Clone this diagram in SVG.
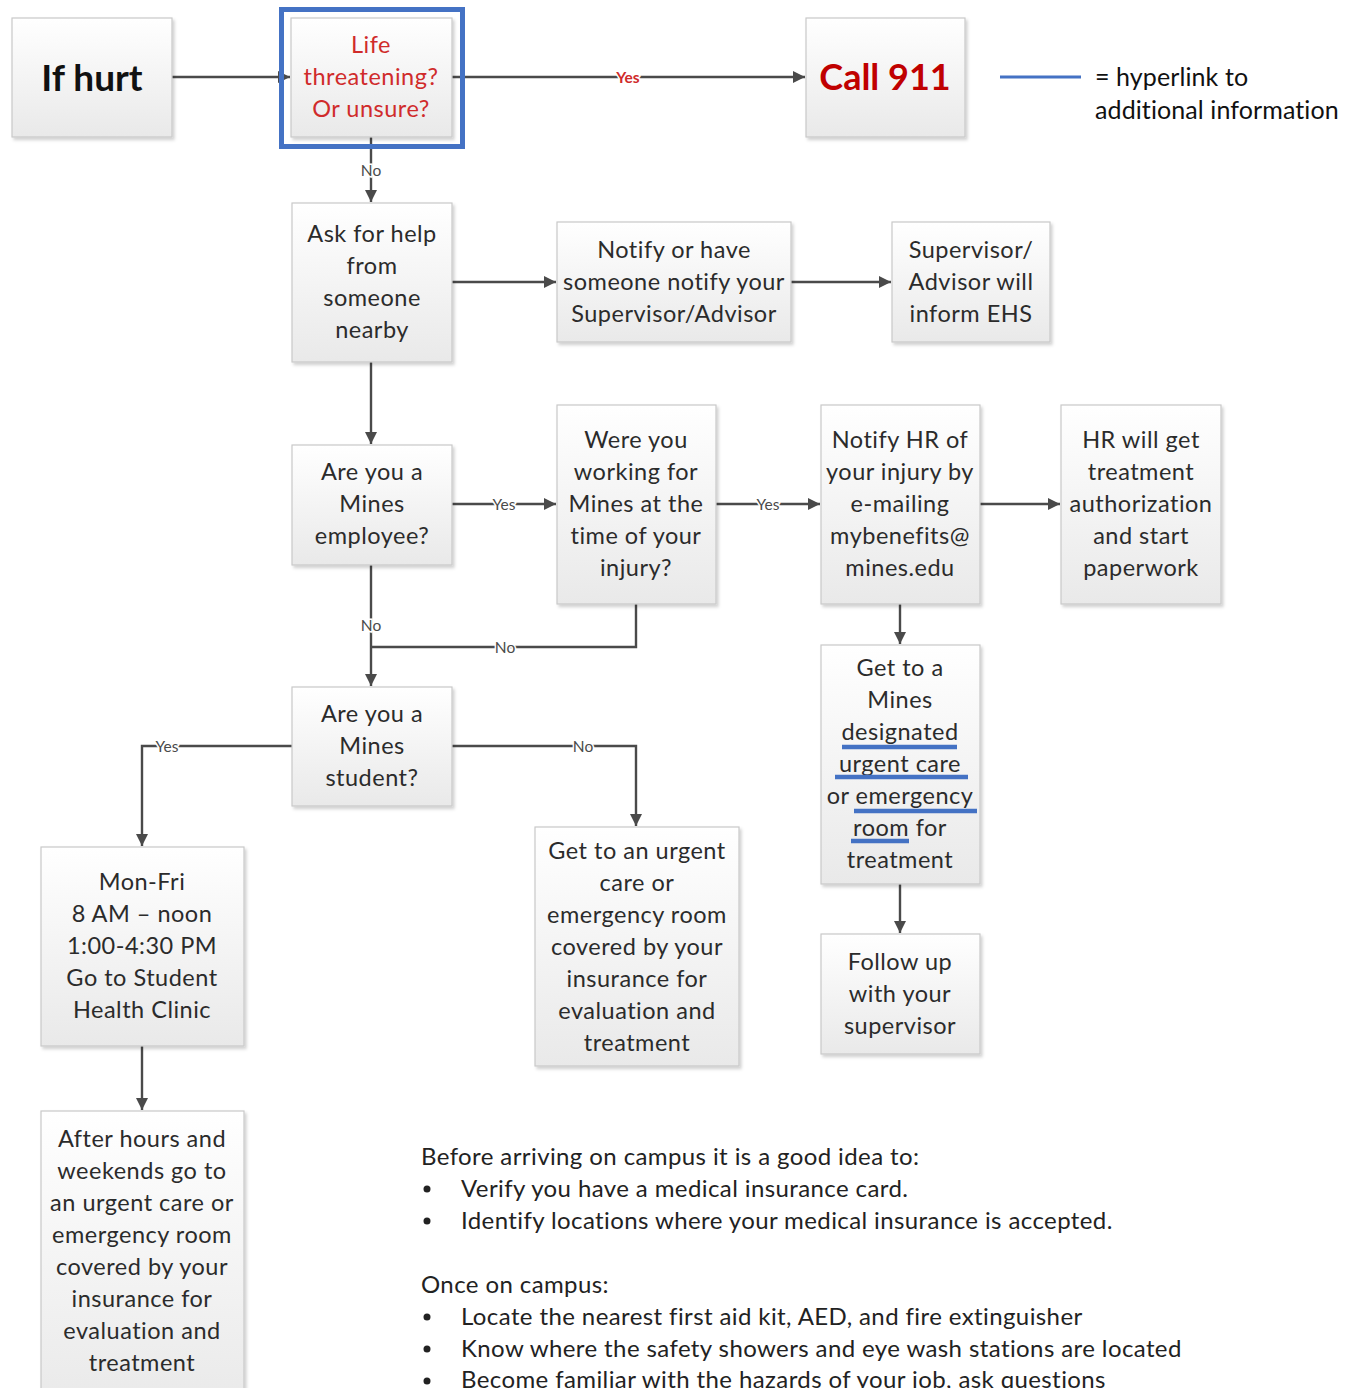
<svg xmlns="http://www.w3.org/2000/svg" width="1354" height="1388" viewBox="0 0 1354 1388">
<style>
.node rect.box{fill:url(#g);stroke:#c9c9c9;stroke-width:1.2;filter:url(#sh)}
.t{font-family:Lato,"Open Sans","Liberation Sans",sans-serif;font-size:23.5px;letter-spacing:0.5px;fill:#2b2b2b;text-anchor:middle;dominant-baseline:central}
.red{fill:#d02b2b}
.conn path{fill:none;stroke:#4a4a4a;stroke-width:2.4}
.lbl{font-family:Lato,"Liberation Sans",sans-serif;font-size:15.5px;fill:#4a4a4a;text-anchor:middle;dominant-baseline:central;stroke:#fff;stroke-width:3px;paint-order:stroke}
.lblr{fill:#d02b2b;font-weight:bold}
.ul{stroke:#4472c4;stroke-width:4.5}
.body{font-family:Lato,"Open Sans","Liberation Sans",sans-serif;font-size:24px;letter-spacing:0.4px;fill:#222;dominant-baseline:central}
</style>
<defs>
<linearGradient id="g" x1="0" y1="0" x2="0" y2="1"><stop offset="0" stop-color="#ffffff"/><stop offset="1" stop-color="#e9e9e9"/></linearGradient>
<filter id="sh" x="-10%" y="-10%" width="125%" height="125%"><feDropShadow dx="2" dy="2.5" stdDeviation="1.5" flood-color="#000" flood-opacity="0.18"/></filter>
<marker id="ar" viewBox="0 0 10 10" refX="10" refY="5" markerWidth="5" markerHeight="5" markerUnits="strokeWidth" orient="auto"><path d="M0,0 L10,5 L0,10 z" fill="#4a4a4a"/></marker>
</defs>
<rect width="1354" height="1388" fill="#fff"/>

<g id="connectors" class="conn">
<path d="M172,77 H290" marker-end="url(#ar)"/>
<path d="M452,77 H805" marker-end="url(#ar)"/>
<path d="M371,137 V202" marker-end="url(#ar)"/>
<path d="M452,282 H556" marker-end="url(#ar)"/>
<path d="M791,282 H891" marker-end="url(#ar)"/>
<path d="M371,362 V444" marker-end="url(#ar)"/>
<path d="M452,504 H556" marker-end="url(#ar)"/>
<path d="M716,504 H820" marker-end="url(#ar)"/>
<path d="M980,504 H1060" marker-end="url(#ar)"/>
<path d="M371,565 V686" marker-end="url(#ar)"/>
<path d="M636,604 V647 H371"/>
<path d="M292,746 H142 V846" marker-end="url(#ar)"/>
<path d="M452,746 H636 V826" marker-end="url(#ar)"/>
<path d="M900,604 V644" marker-end="url(#ar)"/>
<path d="M900,884 V933" marker-end="url(#ar)"/>
<path d="M142,1046 V1110" marker-end="url(#ar)"/>
<text class="lbl lblr" x="628" y="77">Yes</text>
<text class="lbl" x="371" y="170">No</text>
<text class="lbl" x="504" y="504">Yes</text>
<text class="lbl" x="768" y="504">Yes</text>
<text class="lbl" x="371" y="625">No</text>
<text class="lbl" x="505" y="647">No</text>
<text class="lbl" x="167" y="746">Yes</text>
<text class="lbl" x="583" y="746">No</text>
</g>

<g id="n-ifhurt" class="node"><rect class="box" x="12" y="18" width="160" height="119"/><text class="t" x="92" y="76" style="font-size:37px;letter-spacing:0;font-weight:bold;fill:#111">If hurt</text></g>

<g id="n-life" class="node"><rect x="281.5" y="9.5" width="181" height="137" fill="none" stroke="#4472c4" stroke-width="5"/><rect class="box" x="291" y="18" width="161" height="119"/>
<text class="t red" x="371" y="44">Life</text><text class="t red" x="371" y="76">threatening?</text><text class="t red" x="371" y="108">Or unsure?</text></g>

<g id="n-call" class="node"><rect class="box" x="806" y="18" width="159" height="119"/><text class="t" x="885" y="76" style="font-size:36px;letter-spacing:0;font-weight:bold;fill:#c00000">Call 911</text></g>

<g id="legend"><line x1="1000" y1="77" x2="1081" y2="77" stroke="#4472c4" stroke-width="3"/>
<text class="body" x="1095" y="76" style="font-size:25px;letter-spacing:0.1px;fill:#111">= hyperlink to</text>
<text class="body" x="1095" y="109" style="font-size:25px;letter-spacing:0.1px;fill:#111">additional information</text></g>

<g id="n-ask" class="node"><rect class="box" x="292" y="203" width="160" height="159"/>
<text class="t" x="372" y="233">Ask for help</text><text class="t" x="372" y="265">from</text><text class="t" x="372" y="297">someone</text><text class="t" x="372" y="329">nearby</text></g>

<g id="n-notify" class="node"><rect class="box" x="557" y="222" width="234" height="120"/>
<text class="t" x="674" y="249">Notify or have</text><text class="t" x="674" y="281">someone notify your</text><text class="t" x="674" y="313">Supervisor/Advisor</text></g>

<g id="n-sup" class="node"><rect class="box" x="892" y="222" width="158" height="120"/>
<text class="t" x="971" y="249">Supervisor/</text><text class="t" x="971" y="281">Advisor will</text><text class="t" x="971" y="313">inform EHS</text></g>

<g id="n-emp" class="node"><rect class="box" x="292" y="445" width="160" height="120"/>
<text class="t" x="372" y="471">Are you a</text><text class="t" x="372" y="503">Mines</text><text class="t" x="372" y="535">employee?</text></g>

<g id="n-were" class="node"><rect class="box" x="557" y="405" width="159" height="199"/>
<text class="t" x="636" y="439">Were you</text><text class="t" x="636" y="471">working for</text><text class="t" x="636" y="503">Mines at the</text><text class="t" x="636" y="535">time of your</text><text class="t" x="636" y="567">injury?</text></g>

<g id="n-hr" class="node"><rect class="box" x="821" y="405" width="159" height="199"/>
<text class="t" x="900" y="439">Notify HR of</text><text class="t" x="900" y="471">your injury by</text><text class="t" x="900" y="503">e-mailing</text><text class="t" x="900" y="535">mybenefits@</text><text class="t" x="900" y="567">mines.edu</text></g>

<g id="n-hrget" class="node"><rect class="box" x="1061" y="405" width="160" height="199"/>
<text class="t" x="1141" y="439">HR will get</text><text class="t" x="1141" y="471">treatment</text><text class="t" x="1141" y="503">authorization</text><text class="t" x="1141" y="535">and start</text><text class="t" x="1141" y="567">paperwork</text></g>

<g id="n-stu" class="node"><rect class="box" x="292" y="687" width="160" height="119"/>
<text class="t" x="372" y="713">Are you a</text><text class="t" x="372" y="745">Mines</text><text class="t" x="372" y="777">student?</text></g>

<g id="n-getto" class="node"><rect class="box" x="821" y="645" width="159" height="239"/>
<text class="t" x="900" y="667">Get to a</text><text class="t" x="900" y="699">Mines</text><text class="t" x="900" y="731">designated</text><text class="t" x="900" y="763">urgent care</text><text class="t" x="900" y="795">or emergency</text><text class="t" x="900" y="827">room for</text><text class="t" x="900" y="859">treatment</text>
<line class="ul" x1="842" y1="747" x2="957" y2="747"/><line class="ul" x1="835" y1="777" x2="968" y2="777"/><line class="ul" x1="854" y1="811" x2="977" y2="811"/><line class="ul" x1="851" y1="841" x2="909" y2="841"/></g>

<g id="n-follow" class="node"><rect class="box" x="821" y="934" width="159" height="120"/>
<text class="t" x="900" y="961">Follow up</text><text class="t" x="900" y="993">with your</text><text class="t" x="900" y="1025">supervisor</text></g>

<g id="n-urgent" class="node"><rect class="box" x="535" y="827" width="204" height="239"/>
<text class="t" x="637" y="850">Get to an urgent</text><text class="t" x="637" y="882">care or</text><text class="t" x="637" y="914">emergency room</text><text class="t" x="637" y="946">covered by your</text><text class="t" x="637" y="978">insurance for</text><text class="t" x="637" y="1010">evaluation and</text><text class="t" x="637" y="1042">treatment</text></g>

<g id="n-monfri" class="node"><rect class="box" x="41" y="847" width="203" height="199"/>
<text class="t" x="142" y="881">Mon-Fri</text><text class="t" x="142" y="913">8 AM – noon</text><text class="t" x="142" y="945">1:00-4:30 PM</text><text class="t" x="142" y="977">Go to Student</text><text class="t" x="142" y="1009">Health Clinic</text></g>

<g id="n-after" class="node"><rect class="box" x="41" y="1111" width="203" height="300"/>
<text class="t" x="142" y="1138">After hours and</text><text class="t" x="142" y="1170">weekends go to</text><text class="t" x="142" y="1202">an urgent care or</text><text class="t" x="142" y="1234">emergency room</text><text class="t" x="142" y="1266">covered by your</text><text class="t" x="142" y="1298">insurance for</text><text class="t" x="142" y="1330">evaluation and</text><text class="t" x="142" y="1362">treatment</text></g>

<g id="notes">
<text class="body" x="421" y="1155">Before arriving on campus it is a good idea to:</text>
<circle cx="427" cy="1189" r="3.5" fill="#222"/><text class="body" x="461" y="1187">Verify you have a medical insurance card.</text>
<circle cx="427" cy="1221" r="3.5" fill="#222"/><text class="body" x="461" y="1219">Identify locations where your medical insurance is accepted.</text>
<text class="body" x="421" y="1283">Once on campus:</text>
<circle cx="427" cy="1317" r="3.5" fill="#222"/><text class="body" x="461" y="1315">Locate the nearest first aid kit, AED, and fire extinguisher</text>
<circle cx="427" cy="1349" r="3.5" fill="#222"/><text class="body" x="461" y="1347">Know where the safety showers and eye wash stations are located</text>
<circle cx="427" cy="1381" r="3.5" fill="#222"/><text class="body" x="461" y="1378">Become familiar with the hazards of your job, ask questions</text>
</g>
</svg>
